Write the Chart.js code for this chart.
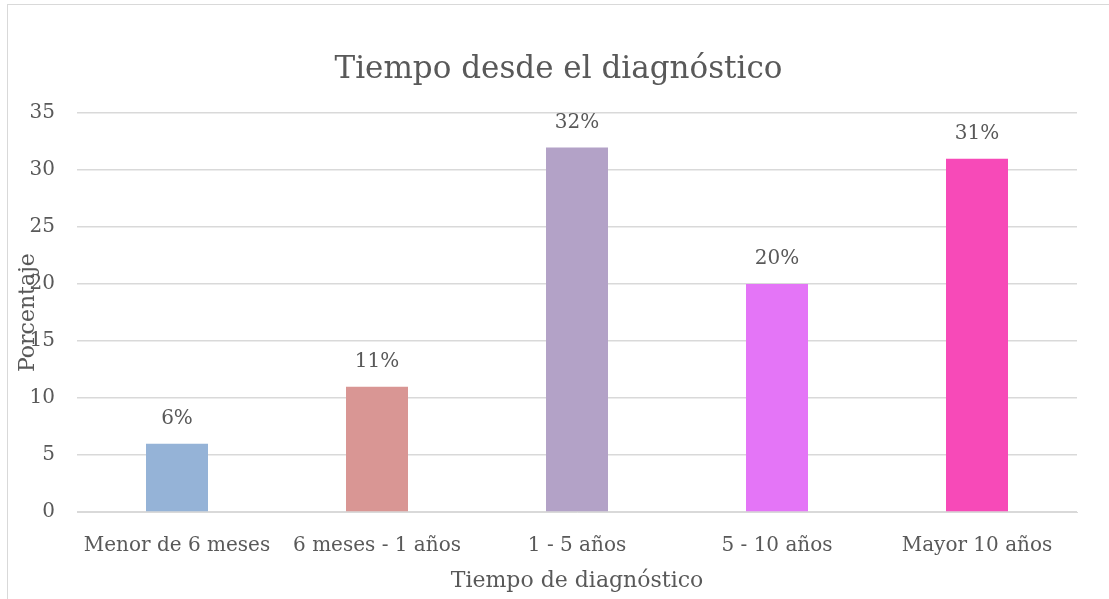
<!DOCTYPE html>
<html>
<head>
<meta charset="utf-8">
<script src="https://cdn.jsdelivr.net/npm/chart.js@4"></script>
<style>
  body { margin: 0; background: #fff; }
  #frame {
    position: absolute; left: 7px; top: 4px; width: 1102px; height: 595px;
    border-top: 1px solid #d9d9d9; border-left: 1px solid #d9d9d9;
  }
  canvas { display: block; }
</style>
</head>
<body>
<div id="frame"><canvas id="chart" width="1101" height="594"></canvas></div>
<script>
const categories = ["Menor de 6 meses", "6 meses - 1 años", "1 - 5 años", "5 - 10 años", "Mayor 10 años"];
const percentages = [6, 11, 32, 20, 31];
const barColors = ["#95b3d7", "#d99694", "#b3a2c7", "#e475f7", "#f74ab8"];
const yTicks = [0, 5, 10, 15, 20, 25, 30, 35];

const textColor = "#595959";
const serif = "'DejaVu Serif', serif";

// value labels above each bar
const barLabels = {
  id: "barLabels",
  afterDatasetsDraw(chart) {
    const ctx = chart.ctx;
    const meta = chart.getDatasetMeta(0);
    ctx.save();
    ctx.font = "20px " + serif;
    ctx.fillStyle = textColor;
    ctx.textAlign = "center";
    ctx.textBaseline = "middle";
    meta.data.forEach((bar, i) => {
      ctx.fillText(percentages[i] + "%", bar.x, bar.y - 25);
    });
    ctx.restore();
  },
};

// y axis title sits over the tick labels, like the original
const yTitle = {
  id: "yTitle",
  afterDraw(chart) {
    const ctx = chart.ctx;
    const area = chart.chartArea;
    ctx.save();
    ctx.translate(20, (area.top + area.bottom) / 2);
    ctx.rotate(-Math.PI / 2);
    ctx.font = "22px " + serif;
    ctx.fillStyle = textColor;
    ctx.textAlign = "center";
    ctx.textBaseline = "middle";
    ctx.fillText("Porcentaje", 0, 0);
    ctx.restore();
  },
};

new Chart(document.getElementById("chart"), {
  type: "bar",
  data: {
    labels: categories,
    datasets: [
      {
        data: percentages,
        backgroundColor: barColors,
        barPercentage: 0.62,
        categoryPercentage: 0.5,
      },
    ],
  },
  options: {
    responsive: false,
    animation: false,
    layout: { padding: 0 },
    plugins: {
      legend: { display: false },
      tooltip: { enabled: false },
      title: {
        display: true,
        text: "Tiempo desde el diagnóstico",
        color: textColor,
        font: { family: serif, size: 31, weight: "normal" },
        padding: { top: 46, bottom: 25 },
      },
    },
    scales: {
      x: {
        afterFit: (scale) => { scale.height = 87; },
        grid: { display: false },
        border: { color: "#d9d9d9" },
        ticks: { color: textColor, font: { family: serif, size: 20 }, padding: 14, maxRotation: 0 },
        title: {
          display: true,
          text: "Tiempo de diagnóstico",
          color: textColor,
          font: { family: serif, size: 22 },
          padding: { top: 0, bottom: 5 },
        },
      },
      y: {
        min: 0,
        max: 35,
        afterFit: (scale) => { scale.width = 69; },
        afterBuildTicks: (scale) => { scale.ticks = yTicks.map((v) => ({ value: v })); },
        grid: { color: "#d9d9d9", lineWidth: 1.5, drawTicks: false },
        border: { display: false },
        ticks: { color: textColor, font: { family: serif, size: 20 }, padding: 22 },
      },
      // empty right margin axis so the title centres like the original
      yRight: {
        type: "linear",
        position: "right",
        afterFit: (scale) => { scale.width = 32; },
        grid: { display: false },
        border: { display: false },
        ticks: { display: false },
      },
    },
  },
  plugins: [barLabels, yTitle],
});
</script>
</body>
</html>
